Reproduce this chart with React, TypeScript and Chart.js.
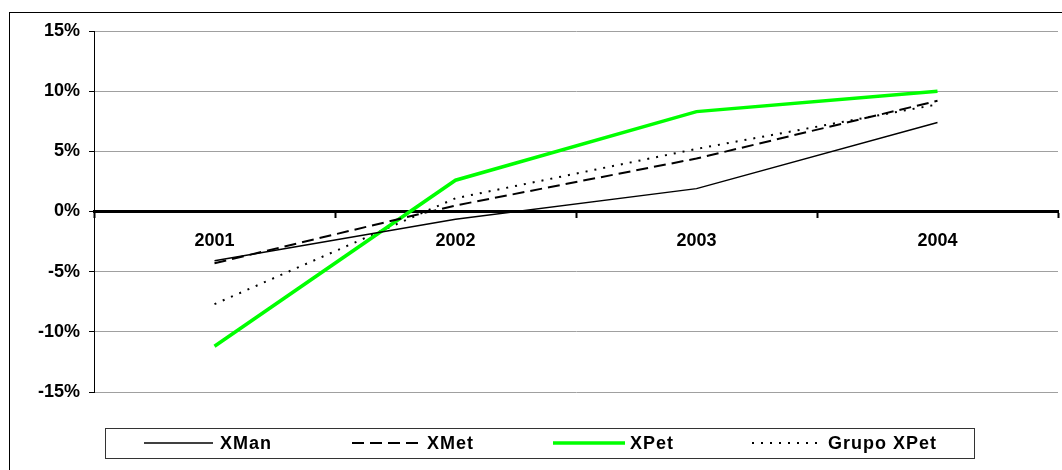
import React, { useEffect, useRef } from "react";
import { Chart, registerables } from "chart.js";

Chart.register(...registerables);

const categories = ["2001", "2002", "2003", "2004"];
const seriesNames = ["XMan", "XMet", "XPet", "Grupo XPet"];
const xman = [-4.1, -0.65, 1.9, 7.4];
const xmet = [-4.3, 0.5, 4.4, 9.2];
const xpet = [-11.2, 2.6, 8.3, 10.0];
const grupo = [-7.7, 1.1, 5.2, 8.9];
const yMin = -15;
const yMax = 15;
const yStep = 5;

const FONT = '"Liberation Sans", Arial, sans-serif';

const styles = [
  { color: "#000000", width: 1.5, dash: [] as number[] },
  { color: "#000000", width: 2, dash: [12, 6] },
  { color: "#00ff00", width: 3.5, dash: [] as number[] },
  { color: "#000000", width: 2, dash: [2, 7] },
];

const framePlugin = {
  id: "frameAndLegend",
  afterDraw(chart: any) {
    const ctx = chart.ctx as CanvasRenderingContext2D;
    ctx.save();
    // outer chart border
    ctx.strokeStyle = "#000";
    ctx.lineWidth = 1;
    ctx.strokeRect(9.5, 12.5, 1200, 600);
    // legend box
    const bx = 105.5, by = 428.5, bw = 869, bh = 30;
    ctx.fillStyle = "#fff";
    ctx.fillRect(bx, by, bw, bh);
    ctx.strokeStyle = "#333";
    ctx.strokeRect(bx, by, bw, bh);
    const cy = 443;
    const items = [
      { x1: 144, x2: 213, tx: 220 },
      { x1: 352, x2: 422, tx: 427 },
      { x1: 553, x2: 625, tx: 630 },
      { x1: 752, x2: 823, tx: 828 },
    ];
    items.forEach((it, i) => {
      const s = styles[i];
      ctx.beginPath();
      ctx.strokeStyle = s.color;
      ctx.lineWidth = s.width;
      ctx.setLineDash(s.dash);
      ctx.moveTo(it.x1, cy);
      ctx.lineTo(it.x2, cy);
      ctx.stroke();
      ctx.setLineDash([]);
      ctx.fillStyle = "#000";
      ctx.font = `bold 18px ${FONT}`;
      (ctx as any).letterSpacing = "1px";
      ctx.textBaseline = "middle";
      ctx.textAlign = "left";
      ctx.fillText(seriesNames[i], it.tx, cy + 1);
      (ctx as any).letterSpacing = "0px";
    });
    ctx.restore();
  },
};

export default function App() {
  const ref = useRef<HTMLCanvasElement | null>(null);
  useEffect(() => {
    if (!ref.current) return;
    const data = [xman, xmet, xpet, grupo];
    const chart = new Chart(ref.current, {
      type: "line",
      data: {
        labels: categories,
        datasets: data.map((d, i) => ({
          label: seriesNames[i],
          data: d,
          borderColor: styles[i].color,
          borderWidth: styles[i].width,
          borderDash: styles[i].dash,
          pointRadius: 0,
          tension: 0,
          fill: false,
        })),
      },
      options: {
        responsive: false,
        animation: false,
        layout: { padding: { left: 9, top: 31, right: 4, bottom: 78 } },
        plugins: {
          legend: { display: false },
          tooltip: { enabled: false },
        },
        scales: {
          x: {
            type: "category",
            position: { y: 0 } as any,
            offset: true,
            grid: {
              offset: true,
              drawOnChartArea: false,
              drawTicks: true,
              tickLength: 5,
              tickColor: "#000",
              tickWidth: 2,
              color: "#000",
            },
            border: { display: true, color: "#000", width: 3 },
            ticks: {
              color: "#000",
              padding: 14,
              maxRotation: 0,
              font: { family: FONT, size: 18, weight: "bold" },
            },
          },
          y: {
            min: yMin,
            max: yMax,
            afterFit: (scale: any) => {
              scale.width = 85;
            },
            grid: {
              color: "#a0a0a0",
              lineWidth: 1,
              tickLength: 5,
              tickColor: "#000",
            },
            border: { display: true, color: "#000", width: 1 },
            ticks: {
              stepSize: yStep,
              color: "#000",
              padding: 9,
              font: { family: FONT, size: 18, weight: "bold" },
              callback: (v: any) => `${v}%`,
            },
          },
        },
      },
      plugins: [framePlugin],
    });
    return () => chart.destroy();
  }, []);
  return (
    <div style={{ position: "absolute", left: 0, top: 0, width: 1062, height: 470, background: "#fff" }}>
      <canvas ref={ref} width={1062} height={470} style={{ display: "block" }} />
    </div>
  );
}
